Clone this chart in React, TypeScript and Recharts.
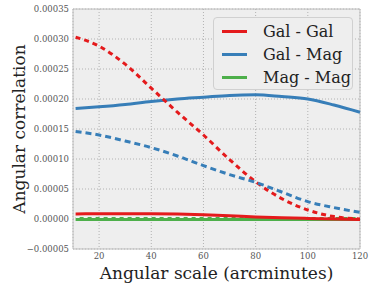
import { LineChart, Line, XAxis, YAxis, CartesianGrid, ReferenceLine } from 'recharts';

const scales = [11, 20, 30, 40, 50, 60, 70, 80, 90, 100, 110, 120];
const galGal = [0.0000085, 0.0000088, 0.0000089, 0.0000088, 0.0000082, 0.0000072, 0.0000055, 0.0000035, 0.000002, 0.000001, 0.0000002, -0.0000008];
const galGalAlt = [0.000303, 0.000288, 0.000258, 0.000218, 0.000178, 0.00014, 0.000099, 0.000062, 0.000034, 0.000015, 0.000004, 0.0];
const galMag = [0.000184, 0.000187, 0.000191, 0.000196, 0.0002, 0.000203, 0.000206, 0.000207, 0.000204, 0.0002, 0.00019, 0.000178];
const galMagAlt = [0.000146, 0.00014, 0.00013, 0.000119, 0.000105, 0.000089, 0.000074, 0.000061, 0.000045, 0.000029, 0.000019, 0.000011];
const magMag = [0, 0, 0, 0, 0, 0, 0, 0, 0, 0, 0, 0];
const magMagAlt = [0.000003, 0.000003, 0.000003, 0.000003, 0.000003, 0.000003, 0.000003, 0.000003, 0.000003, 0.000003, 0.000003, 0.000003];

const xTicks = [20, 40, 60, 80, 100, 120];
const yTicks = [-0.00005, 0, 0.00005, 0.0001, 0.00015, 0.0002, 0.00025, 0.0003, 0.00035];

const legendItems = [
  { name: 'Gal - Gal', color: '#e41a1c' },
  { name: 'Gal - Mag', color: '#377eb8' },
  { name: 'Mag - Mag', color: '#4daf4a' },
];

const data = scales.map((s, i) => ({
  scale: s,
  galGal: galGal[i],
  galGalAlt: galGalAlt[i],
  galMag: galMag[i],
  galMagAlt: galMagAlt[i],
  magMag: magMag[i],
  magMagAlt: magMagAlt[i],
}));

const font = '"DejaVu Serif", serif';

function fmtY(v: number) {
  const s = Math.abs(v).toFixed(5);
  return v < 0 ? '\u2212' + s : s;
}

function LegendBox() {
  return (
    <div
      style={{
        position: 'absolute',
        left: 213,
        top: 17,
        width: 140,
        height: 73,
        border: '1px solid #d0d0d0',
        borderRadius: 4,
        background: '#eeeeee',
        boxSizing: 'border-box',
        padding: '2px 0 0 8px',
        fontFamily: font,
        fontSize: 16,
        color: '#222',
        whiteSpace: 'nowrap',
      }}
    >
      {legendItems.map((it) => (
        <div key={it.name} style={{ display: 'flex', alignItems: 'center', height: 23 }}>
          <div style={{ width: 25, height: 3, background: it.color, marginRight: 16 }} />
          <span>{it.name}</span>
        </div>
      ))}
    </div>
  );
}

export default function App() {
  return (
    <div style={{ position: 'absolute', left: 0, top: 0, width: 374, height: 288, background: '#fff' }}>
      <LineChart width={374} height={288} data={data} margin={{ top: 9, right: 14, bottom: 0, left: 0 }}>
        <CartesianGrid fill="#eeeeee" stroke="#b2b2b2" strokeDasharray="1 2" />
        <XAxis
          dataKey="scale"
          type="number"
          domain={[10, 120]}
          ticks={xTicks}
          height={39}
          tickLine={false}
          tickSize={2}
          tickMargin={2}
          axisLine={{ stroke: '#bcbcbc' }}
          tick={{ fontFamily: font, fontSize: 8.5, fill: '#555' }}
          label={{ value: 'Angular scale (arcminutes)', position: 'insideBottom', offset: 9, style: { fontFamily: font, fontSize: 17, fill: '#222' } }}
        />
        <YAxis
          type="number"
          domain={[-0.00005, 0.00035]}
          ticks={yTicks}
          width={73}
          tickLine={false}
          tickSize={2}
          tickMargin={2}
          tickFormatter={fmtY}
          axisLine={{ stroke: '#bcbcbc' }}
          tick={{ fontFamily: font, fontSize: 8.5, fill: '#555' }}
          label={{ value: 'Angular correlation', angle: -90, position: 'insideLeft', offset: 19, style: { fontFamily: font, fontSize: 17, fill: '#222', textAnchor: 'middle' } }}
        />
        <ReferenceLine y={0.00035} stroke="#bcbcbc" />
        <ReferenceLine x={120} stroke="#bcbcbc" />
        <Line type="monotone" dataKey="magMag" stroke="#4daf4a" strokeWidth={4} dot={false} isAnimationActive={false} />
        <Line type="monotone" dataKey="magMagAlt" stroke="#f4f4f4" strokeWidth={1.5} strokeDasharray="4 4" dot={false} isAnimationActive={false} />
        <Line type="monotone" dataKey="galGal" stroke="#e41a1c" strokeWidth={3} dot={false} isAnimationActive={false} />
        <Line type="monotone" dataKey="galMag" stroke="#377eb8" strokeWidth={3} dot={false} isAnimationActive={false} />
        <Line type="monotone" dataKey="galGalAlt" stroke="#e41a1c" strokeWidth={3} strokeDasharray="5 4" dot={false} isAnimationActive={false} />
        <Line type="monotone" dataKey="galMagAlt" stroke="#377eb8" strokeWidth={3} strokeDasharray="6 4" dot={false} isAnimationActive={false} />
      </LineChart>
      <LegendBox />
    </div>
  );
}
